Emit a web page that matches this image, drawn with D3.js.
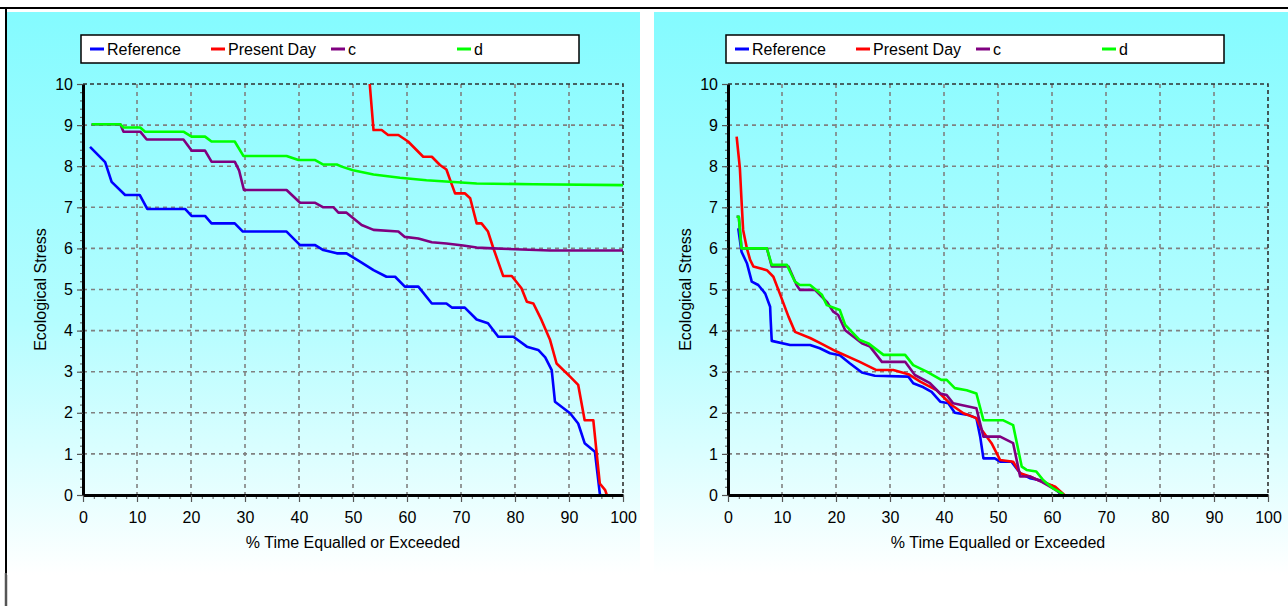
<!DOCTYPE html>
<html>
<head>
<meta charset="utf-8">
<script src="https://cdn.jsdelivr.net/npm/d3@7"></script>
<style>
  body { margin: 0; background: #fff; }
  text { font-family: "Liberation Sans", Arial, sans-serif; }
</style>
</head>
<body>
<div id="chart"></div>
<script>
let width = 1288
let height = 612

let seriesNames = ["Reference", "Present Day", "c", "d"]
let seriesColors = ["#0000ff", "#ff0000", "#800080", "#00ff00"]
let xTicks = [0, 10, 20, 30, 40, 50, 60, 70, 80, 90, 100]
let yTicks = [0, 1, 2, 3, 4, 5, 6, 7, 8, 9, 10]
let xLabel = "% Time Equalled or Exceeded"
let yLabel = "Ecological Stress"

// left chart: [% time, stress]
let leftReference = [[1.3,8.47],[4.1,8.1],[5.3,7.62],[7.8,7.3],[10.5,7.3],[11.9,6.96],[18.9,6.96],[20.1,6.79],[22.6,6.79],[23.8,6.61],[28.1,6.61],[29.6,6.41],[37.7,6.41],[40.2,6.08],[43,6.08],[44.5,5.96],[47,5.88],[48.8,5.88],[51.3,5.68],[53.8,5.47],[56.2,5.31],[57.8,5.31],[59.6,5.07],[62.1,5.07],[64.6,4.66],[67.3,4.66],[68.3,4.56],[70.7,4.56],[72.9,4.27],[75,4.18],[76.9,3.85],[79.7,3.85],[82.2,3.61],[84.3,3.53],[85.6,3.35],[86.8,3.04],[87.4,2.27],[90.2,1.99],[91.7,1.74],[92.9,1.26],[94.8,1.05],[95.7,0.04],[95.8,0]]
let leftPresentDay = [[53.1,10],[53.8,8.88],[55.3,8.88],[56.5,8.76],[58.4,8.76],[60.2,8.6],[63,8.23],[64.6,8.23],[66.1,8.03],[67.3,7.92],[68,7.66],[68.9,7.34],[70.7,7.34],[71.7,7.22],[72.9,6.61],[73.8,6.61],[75,6.41],[75.9,6.04],[77.8,5.33],[79.4,5.33],[81.2,5.03],[82.2,4.7],[83.4,4.66],[84.9,4.26],[86.5,3.77],[87.7,3.2],[90.2,2.88],[91.7,2.68],[92.9,1.82],[94.5,1.82],[95.1,1.05],[95.7,0.28],[96.7,0.12],[97,0]]
let leftC = [[1.6,9.02],[6.9,9.02],[7.5,8.84],[10.6,8.84],[11.8,8.65],[18.6,8.65],[20.1,8.38],[22.6,8.38],[23.8,8.11],[28.1,8.11],[28.9,7.9],[29.8,7.42],[37.7,7.42],[40.2,7.11],[43,7.11],[44.5,7.0],[46.4,7.0],[47.3,6.87],[48.8,6.87],[51.6,6.57],[53.8,6.45],[58.4,6.41],[59.6,6.28],[62.1,6.24],[64.6,6.15],[67.3,6.12],[70.4,6.07],[72.9,6.02],[75.9,6.0],[86.5,5.95],[100,5.95]]
let leftD = [[1.6,9.02],[6.9,9.02],[7.5,8.94],[10.6,8.94],[11.5,8.84],[18.6,8.84],[20.1,8.72],[22.6,8.72],[23.8,8.6],[28.1,8.6],[29.7,8.25],[37.7,8.25],[39.9,8.15],[43,8.15],[44.5,8.04],[47,8.04],[47.9,7.99],[50,7.9],[53.8,7.8],[58.7,7.72],[63.6,7.66],[72.9,7.58],[83.4,7.56],[100,7.54]]

// right chart
let rightReference = [[1.9,6.49],[2.2,6.2],[2.5,5.92],[3.5,5.64],[4.4,5.19],[5.6,5.11],[6.9,4.9],[7.8,4.58],[7.9,4.26],[8.1,3.75],[11.5,3.65],[15.2,3.65],[17,3.57],[18.9,3.45],[20.7,3.4],[22.6,3.2],[24.8,2.98],[27.2,2.9],[33.4,2.88],[34.3,2.72],[36.2,2.62],[37.7,2.51],[39.3,2.27],[40.8,2.23],[42,2.0],[44.5,1.95],[46,1.87],[46.7,1.42],[47.3,0.89],[49.4,0.89],[50.4,0.81],[52.5,0.81],[54.1,0.53],[55.9,0.41],[57.8,0.36],[60.2,0.2],[61.8,0]]
let rightPresentDay = [[1.6,8.72],[2.2,7.95],[2.5,7.18],[2.8,6.45],[3.5,6.0],[4.1,5.72],[4.7,5.56],[7.2,5.47],[8.4,5.31],[9.6,4.9],[11.2,4.34],[12.4,3.97],[15.2,3.82],[17,3.7],[20.1,3.49],[24.4,3.24],[27.5,3.04],[30.6,3.04],[33.4,2.94],[35.6,2.76],[38.6,2.55],[41.4,2.19],[43.6,1.99],[46,1.87],[47,1.58],[48.8,1.26],[50.4,0.85],[52.8,0.81],[54.1,0.53],[55.9,0.45],[57.5,0.36],[60.6,0.2],[62.3,0]]
let rightC = [[1.6,6.77],[2.0,6.77],[2.2,6.45],[2.5,6.0],[7.2,6.0],[8.1,5.56],[11.2,5.56],[12.7,5.11],[13.3,4.99],[16.1,4.99],[18.3,4.7],[19.5,4.46],[20.4,4.38],[21.7,4.01],[24.8,3.69],[26.3,3.61],[28.5,3.24],[32.8,3.24],[34.6,2.92],[37.4,2.72],[39.3,2.47],[40.5,2.43],[41.7,2.23],[46,2.11],[47.3,1.42],[50.4,1.42],[52.8,1.26],[54.1,0.45],[55.9,0.45],[58.1,0.32],[60.2,0.16],[62.1,0]]
let rightD = [[1.6,6.77],[2.0,6.77],[2.2,6.45],[2.5,6.0],[7.2,6.0],[8.1,5.6],[10.9,5.6],[12.4,5.19],[13.3,5.11],[15.2,5.11],[17.4,4.87],[18.3,4.62],[20.7,4.5],[21.7,4.14],[24.4,3.77],[26,3.69],[28.8,3.41],[32.8,3.41],[34.3,3.16],[36.8,3.0],[39.5,2.8],[40.5,2.8],[42,2.6],[44.2,2.55],[46,2.47],[47.3,1.82],[50.9,1.82],[52.8,1.7],[54.4,0.69],[55.3,0.61],[57.1,0.57],[58.4,0.36],[60.2,0.16],[62.1,0.02]]

let svg = d3.select("#chart")
	.append("svg")
	.attr("width", width)
	.attr("height", height)

// panel background fades from cyan to white
let grad = svg.append("defs")
	.append("linearGradient")
	.attr("id", "bg")
	.attr("x1", 0).attr("y1", 0)
	.attr("x2", 0).attr("y2", 1)
grad.append("stop").attr("offset", "0%").attr("stop-color", "#84fbff")
grad.append("stop").attr("offset", "55%").attr("stop-color", "#b4fdff")
grad.append("stop").attr("offset", "100%").attr("stop-color", "#ffffff")

// outer frame bits
svg.append("line").attr("x1", 0).attr("x2", width).attr("y1", 8).attr("y2", 8)
	.attr("stroke", "#000").attr("stroke-width", 2)
svg.append("line").attr("x1", 6).attr("x2", 6).attr("y1", 8).attr("y2", 573)
	.attr("stroke", "#000").attr("stroke-width", 2)
svg.append("line").attr("x1", 6).attr("x2", 6).attr("y1", 573).attr("y2", 606)
	.attr("stroke", "#555").attr("stroke-width", 2.5)

let drawChart = function(panelX, panelW, plotLeft, series) {
	let plotTop = 84
	let plotBottom = 495
	let plotRight = plotLeft + 540

	let g = svg.append("g")

	g.append("rect")
		.attr("x", panelX)
		.attr("y", 12)
		.attr("width", panelW)
		.attr("height", 563)
		.attr("fill", "url(#bg)")

	let x = d3.scaleLinear().domain([0, 100]).range([plotLeft, plotRight])
	let y = d3.scaleLinear().domain([0, 10]).range([plotBottom, plotTop])

	// dashed grid
	g.selectAll(".vgrid")
		.data(xTicks.slice(1, -1))
		.enter()
		.append("line")
		.attr("x1", d => x(d)).attr("x2", d => x(d))
		.attr("y1", plotTop).attr("y2", plotBottom)
		.attr("stroke", "#808080")
		.attr("stroke-width", 1.6)
		.attr("stroke-dasharray", "4,4")
	g.selectAll(".hgrid")
		.data(yTicks.slice(1, -1))
		.enter()
		.append("line")
		.attr("x1", plotLeft).attr("x2", plotRight)
		.attr("y1", d => y(d)).attr("y2", d => y(d))
		.attr("stroke", "#808080")
		.attr("stroke-width", 1.6)
		.attr("stroke-dasharray", "4,4")

	// top and right border, dashed dark
	g.append("path")
		.attr("d", "M" + plotLeft + "," + plotTop + "H" + plotRight + "V" + plotBottom)
		.attr("fill", "none")
		.attr("stroke", "#303030")
		.attr("stroke-width", 1.6)
		.attr("stroke-dasharray", "4,3")

	// lines
	let line = d3.line().x(d => x(d[0])).y(d => y(d[1]))
	let order = [0, 1, 2, 3]
	g.selectAll(".series")
		.data(order)
		.enter()
		.append("path")
		.attr("d", i => line(series[i]))
		.attr("fill", "none")
		.attr("stroke", i => seriesColors[i])
		.attr("stroke-width", 2.6)
		.attr("stroke-linejoin", "round")

	// axes
	let xMinor = d3.range(0, 101, 2)
	let yMinor = d3.range(0, 10.01, 0.2)
	g.append("g")
		.attr("transform", "translate(0," + plotBottom + ")")
		.call(d3.axisBottom(x).tickValues(xMinor).tickSize(4).tickFormat(""))
		.call(a => a.select(".domain").remove())
		.selectAll("line").attr("stroke", "#555")
	g.append("g")
		.attr("transform", "translate(" + plotLeft + ",0)")
		.call(d3.axisLeft(y).tickValues(yMinor).tickSize(3).tickFormat(""))
		.call(a => a.select(".domain").remove())
		.selectAll("line").attr("stroke", "#555")

	let xAxis = g.append("g")
		.attr("transform", "translate(0," + plotBottom + ")")
		.call(d3.axisBottom(x).tickValues(xTicks).tickSize(7).tickSizeOuter(0).tickPadding(10))
	let yAxis = g.append("g")
		.attr("transform", "translate(" + plotLeft + ",0)")
		.call(d3.axisLeft(y).tickValues(yTicks).tickSize(6).tickSizeOuter(0).tickPadding(4))
	;[xAxis, yAxis].forEach(a => {
		a.select(".domain").attr("stroke", "#000").attr("stroke-width", 3)
		a.selectAll(".tick line").attr("stroke", "#555").attr("stroke-width", 1.2)
		a.selectAll("text")
			.attr("font-family", "Liberation Sans, Arial, sans-serif")
			.attr("font-size", 16)
			.attr("fill", "#000")
	})

	g.append("text")
		.text(xLabel)
		.attr("x", (plotLeft + plotRight) / 2)
		.attr("y", 548)
		.attr("text-anchor", "middle")
		.attr("font-size", 16)
	g.append("text")
		.text(yLabel)
		.attr("transform", "translate(" + (plotLeft - 37) + "," + ((plotTop + plotBottom) / 2) + ") rotate(-90)")
		.attr("text-anchor", "middle")
		.attr("font-size", 16)

	// legend
	let legX = plotLeft - 2
	let legend = g.append("g").attr("transform", "translate(" + legX + ",35)")
	legend.append("rect")
		.attr("width", 498)
		.attr("height", 28)
		.attr("fill", "#fff")
		.attr("stroke", "#000")
		.attr("stroke-width", 1.5)
	let itemX = [9, 130, 250, 376]
	let items = legend.selectAll(".item")
		.data(seriesNames)
		.enter()
		.append("g")
		.attr("transform", (d, i) => "translate(" + itemX[i] + ",14)")
	items.append("line")
		.attr("x1", 0).attr("x2", 14)
		.attr("stroke", (d, i) => seriesColors[i])
		.attr("stroke-width", 3)
	items.append("text")
		.text(d => d)
		.attr("x", 17)
		.attr("y", 6)
		.attr("font-size", 16)
}

drawChart(7, 633, 83, [leftReference, leftPresentDay, leftC, leftD])
drawChart(654, 634, 728, [rightReference, rightPresentDay, rightC, rightD])
</script>
</body>
</html>
